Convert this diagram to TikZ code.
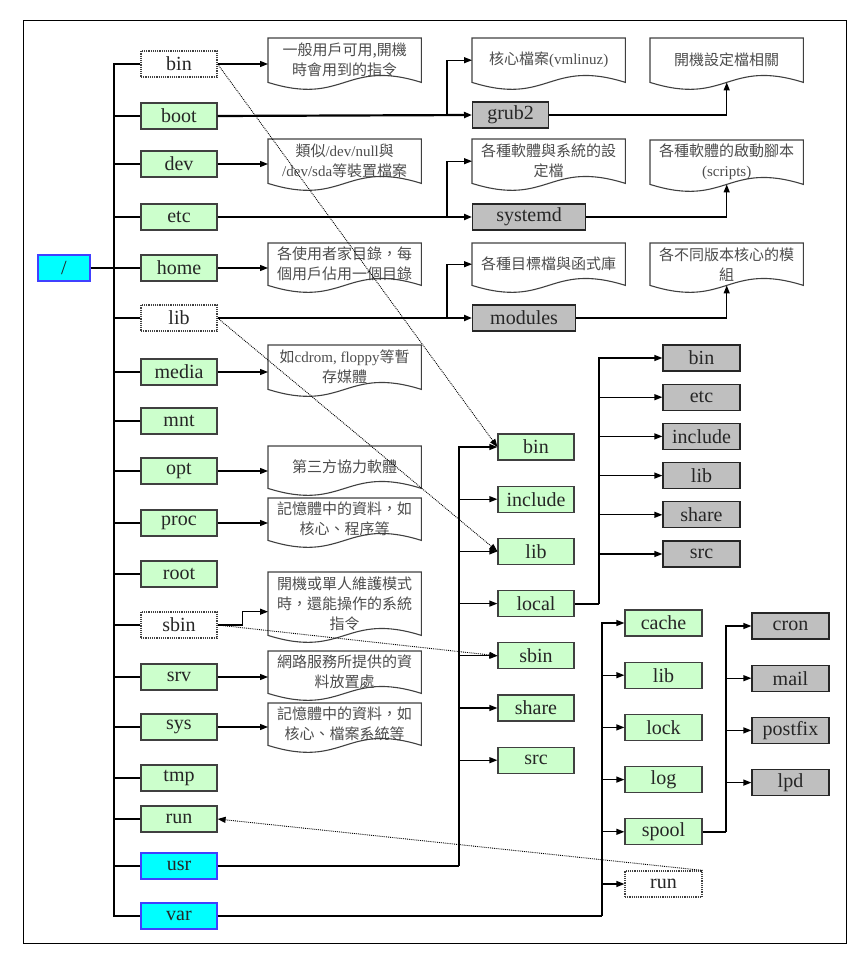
\documentclass[tikz,border=0pt]{standalone}
\usepackage{fontspec}
\setmainfont{Liberation Serif}
\newfontfamily\cjk{Noto Sans CJK TC}
\usepackage{tikz}
\usetikzlibrary{
  arrows.meta,
  positioning,
  calc
}
\definecolor{dirgreen}{HTML}{CCFFCC}
\definecolor{subgrey}{HTML}{BFBFBF}
\definecolor{topcyan}{HTML}{00FFFF}
\tikzset{
  dirbox/.style={draw=black!75, fill=dirgreen, line width=1.2pt,
    minimum width=76pt, minimum height=26pt, inner sep=0pt,
    font=\fontsize{20}{22}\selectfont, text=black!85},
  linkbox/.style={dirbox, fill=white, densely dotted},
  subbox/.style={dirbox, fill=subgrey, draw=black!85},
  mainbox/.style={dirbox, fill=topcyan, draw=blue!75},
  notebox/.style={anchor=north west, minimum width=153pt, inner sep=0pt,
    align=center, font=\cjk\fontsize{15}{20}\selectfont, text=black!70},
  noteline/.style={draw=black!75, line width=1.1pt},
  arr/.style={-{Triangle[length=8pt,width=6pt]}, line width=1.2pt},
  tarr/.style={arr, line width=2.2pt},
  darr/.style={arr, line width=0.9pt, densely dotted},
  trunk/.style={line width=1.5pt},
  bold/.style={line width=2.2pt},
}
\newcommand{\wavy}[1]{%
  \draw[noteline] (#1.south west) -- (#1.north west) -- (#1.north east)
    -- (#1.south east) .. controls ([yshift=24pt]#1.south)
    and ([yshift=-24pt]#1.south) .. (#1.south west) -- cycle;}
\newcommand{\lat}[1]{{\rmfamily #1}}

\begin{document}
\begin{tikzpicture}[x=1pt, y=-1pt]
  \useasboundingbox (0,0) rectangle (865,955);
  \draw[line width=1pt] (23,21) rectangle (846,943);

  % root and first level
  \node[mainbox, minimum width=52pt] (top) at (64,268) {/};
  \coordinate (spine) at (114,268);
  \node[linkbox] (bin) at (179,64) {bin};
  \node[dirbox] (boot) at (179,116) {boot};
  \node[dirbox] (dev) at (179,164) {dev};
  \node[dirbox] (etc) at (179,217) {etc};
  \node[dirbox] (home) at (179,268) {home};
  \node[linkbox] (lib) at (179,318) {lib};
  \node[dirbox] (media) at (179,372) {media};
  \node[dirbox] (mnt) at (179,421) {mnt};
  \node[dirbox] (opt) at (179,471) {opt};
  \node[dirbox] (proc) at (179,523) {proc};
  \node[dirbox] (root) at (179,574) {root};
  \node[linkbox] (sbin) at (179,625) {sbin};
  \node[dirbox] (srv) at (179,677) {srv};
  \node[dirbox] (sys) at (179,727) {sys};
  \node[dirbox] (tmp) at (179,778) {tmp};
  \node[dirbox] (run) at (179,819) {run};
  \node[mainbox] (usr) at (179,866) {usr};
  \node[mainbox] (var) at (179,916) {var};

  \draw[bold] (top.east) -- (spine);
  \draw[trunk] (bin.west) -- (bin.west -| spine) -- (var.west -| spine) -- (var.west);
  \draw[trunk] (boot.west) -- (boot.west -| spine);
  \draw[trunk] (dev.west) -- (dev.west -| spine);
  \draw[trunk] (etc.west) -- (etc.west -| spine);
  \draw[trunk] (home.west) -- (home.west -| spine);
  \draw[trunk] (lib.west) -- (lib.west -| spine);
  \draw[trunk] (media.west) -- (media.west -| spine);
  \draw[trunk] (mnt.west) -- (mnt.west -| spine);
  \draw[trunk] (opt.west) -- (opt.west -| spine);
  \draw[trunk] (proc.west) -- (proc.west -| spine);
  \draw[trunk] (root.west) -- (root.west -| spine);
  \draw[trunk] (sbin.west) -- (sbin.west -| spine);
  \draw[trunk] (srv.west) -- (srv.west -| spine);
  \draw[trunk] (sys.west) -- (sys.west -| spine);
  \draw[trunk] (tmp.west) -- (tmp.west -| spine);
  \draw[trunk] (run.west) -- (run.west -| spine);
  \draw[trunk] (usr.west) -- (usr.west -| spine);

  % notes of the first level
  \node[notebox, minimum height=44pt] (nbin) at (268,38) {一般用戶可用,開機\\時會用到的指令};
  \node[notebox, minimum height=44pt] (ndev) at (268,139) {類似\lat{/dev/null}與\\\lat{/dev/sda}等裝置檔案};
  \node[notebox, minimum height=42pt] (nhome) at (268,243) {各使用者家目錄，每\\個用戶佔用一個目錄};
  \node[notebox, minimum height=44pt] (nmedia) at (268,345) {如\lat{cdrom, floppy}等暫\\存媒體};
  \node[notebox, minimum height=42pt] (nopt) at (268,446) {第三方協力軟體};
  \node[notebox, minimum height=42pt] (nproc) at (268,498) {記憶體中的資料，如\\核心、程序等};
  \node[notebox, minimum height=63pt] (nsbin) at (268,572) {開機或單人維護模式\\時，還能操作的系統\\指令};
  \node[notebox, minimum height=42pt] (nsrv) at (268,651) {網路服務所提供的資\\料放置處};
  \node[notebox, minimum height=42pt] (nsys) at (268,703) {記憶體中的資料，如\\核心、檔案系統等};
  \wavy{nbin} \wavy{ndev} \wavy{nhome} \wavy{nmedia} \wavy{nopt}
  \wavy{nproc} \wavy{nsbin} \wavy{nsrv} \wavy{nsys}

  \draw[arr] (bin.east) -- (bin.east -| nbin.west);
  \draw[arr] (dev.east) -- (dev.east -| ndev.west);
  \draw[arr] (home.east) -- (home.east -| nhome.west);
  \draw[arr] (media.east) -- (media.east -| nmedia.west);
  \draw[arr] (opt.east) -- (opt.east -| nopt.west);
  \draw[arr] (proc.east) -- (proc.east -| nproc.west);
  \draw[arr] (sbin.east) -- ([xshift=25pt]sbin.east) |- ([yshift=-8pt]nsbin.west);
  \draw[arr] (srv.east) -- (srv.east -| nsrv.west);
  \draw[arr] (sys.east) -- (sys.east -| nsys.west);

  % boot, etc and lib
  \coordinate (fork) at (447,0);
  \node[subbox, anchor=west] (grub) at (472,115) {grub2};
  \node[subbox, anchor=west, minimum width=113pt] (systemd) at (472,217) {systemd};
  \node[subbox, anchor=west, minimum width=103pt] (modules) at (472,318) {modules};
  \node[notebox, minimum height=44pt] (nvmlinuz) at (472,38) {核心檔案\lat{(vmlinuz)}};
  \node[notebox, minimum height=44pt] (netc) at (472,139) {各種軟體與系統的設\\定檔};
  \node[notebox, minimum height=42pt] (nlib) at (472,243) {各種目標檔與函式庫};
  \node[notebox, minimum height=44pt] (nboot) at (650,38) {開機設定檔相關};
  \node[notebox, minimum height=44pt] (nscripts) at (650,140) {各種軟體的啟動腳本\\\lat{(scripts)}};
  \node[notebox, minimum height=42pt] (nmodules) at (650,243) {各不同版本核心的模\\組};
  \wavy{nvmlinuz} \wavy{netc} \wavy{nlib}
  \wavy{nboot} \wavy{nscripts} \wavy{nmodules}

  \draw[tarr] (boot.east) -- (grub.west);
  \draw[arr] (fork |- grub.west) |- (nvmlinuz.west);
  \draw[arr] (grub.east) -| (nboot.south);
  \draw[tarr] (etc.east) -- (systemd.west);
  \draw[arr] (fork |- systemd.west) |- (netc.west);
  \draw[arr] (systemd.east) -| (nscripts.south);
  \draw[tarr] (lib.east) -- (modules.west);
  \draw[arr] (fork |- modules.west) |- (nlib.west);
  \draw[arr] (modules.east) -| (nmodules.south);

  % usr
  \coordinate (ubus) at (459,0);
  \node[dirbox] (ubin) at (536,447) {bin};
  \node[dirbox, below=25pt of ubin] (uinclude) {include};
  \node[dirbox, below=25pt of uinclude] (ulib) {lib};
  \node[dirbox, below=25pt of ulib] (ulocal) {local};
  \node[dirbox, below=25pt of ulocal] (usbin) {sbin};
  \node[dirbox, below=25pt of usbin] (ushare) {share};
  \node[dirbox, below=25pt of ushare] (usrc) {src};
  \draw[bold] (usr.east) -- (usr.east -| ubus);
  \draw[arr] (usr.east -| ubus) |- (ubin.west);
  \draw[arr] (ubus |- uinclude.west) -- (uinclude.west);
  \draw[arr] (ubus |- ulib.west) -- (ulib.west);
  \draw[arr] (ubus |- ulocal.west) -- (ulocal.west);
  \draw[arr] (ubus |- usbin.west) -- (usbin.west);
  \draw[arr] (ubus |- ushare.west) -- (ushare.west);
  \draw[arr] (ubus |- usrc.west) -- (usrc.west);

  % usr/local
  \coordinate (lbus) at (599,0);
  \node[subbox, minimum width=77pt] (lbin) at (701.5,358) {bin};
  \node[subbox, minimum width=77pt, below=12pt of lbin] (letc) {etc};
  \node[subbox, minimum width=77pt, below=12pt of letc] (linclude) {include};
  \node[subbox, minimum width=77pt, below=12pt of linclude] (llib) {lib};
  \node[subbox, minimum width=77pt, below=12pt of llib] (lshare) {share};
  \node[subbox, minimum width=77pt, below=12pt of lshare] (lsrc) {src};
  \draw[bold] (ulocal.east) -- (ulocal.east -| lbus);
  \draw[arr] (ulocal.east -| lbus) |- (lbin.west);
  \draw[arr] (lbus |- letc.west) -- (letc.west);
  \draw[arr] (lbus |- linclude.west) -- (linclude.west);
  \draw[arr] (lbus |- llib.west) -- (llib.west);
  \draw[arr] (lbus |- lshare.west) -- (lshare.west);
  \draw[arr] (lbus |- lsrc.west) -- (lsrc.west);

  % var
  \coordinate (vbus) at (602,0);
  \node[dirbox, minimum width=77pt] (vcache) at (663.5,623) {cache};
  \node[dirbox, minimum width=77pt, below=25pt of vcache] (vlib) {lib};
  \node[dirbox, minimum width=77pt, below=25pt of vlib] (vlock) {lock};
  \node[dirbox, minimum width=77pt, below=25pt of vlock] (vlog) {log};
  \node[dirbox, minimum width=77pt, below=25pt of vlog] (vspool) {spool};
  \node[linkbox, minimum width=77pt, below=25pt of vspool] (vrun) {run};
  \draw[bold] (var.east) -- (var.east -| vbus);
  \draw[arr] (var.east -| vbus) |- (vcache.west);
  \draw[arr] (vbus |- vlib.west) -- (vlib.west);
  \draw[arr] (vbus |- vlock.west) -- (vlock.west);
  \draw[arr] (vbus |- vlog.west) -- (vlog.west);
  \draw[arr] (vbus |- vspool.west) -- (vspool.west);
  \draw[arr] (vbus |- vrun.west) -- (vrun.west);

  % var/spool
  \coordinate (sbus) at (726,0);
  \node[subbox, minimum width=77pt] (scron) at (790.5,626) {cron};
  \node[subbox, minimum width=77pt, below=25pt of scron] (smail) {mail};
  \node[subbox, minimum width=77pt, below=25pt of smail] (spostfix) {postfix};
  \node[subbox, minimum width=77pt, below=25pt of spostfix] (slpd) {lpd};
  \draw[bold] (vspool.east) -- (vspool.east -| sbus);
  \draw[arr] (vspool.east -| sbus) |- (scron.west);
  \draw[arr] (sbus |- smail.west) -- (smail.west);
  \draw[arr] (sbus |- spostfix.west) -- (spostfix.west);
  \draw[arr] (sbus |- slpd.west) -- (slpd.west);

  % links
  \draw[darr] (bin.east) -- (ubin.west);
  \draw[darr] (lib.east) -- (ulib.west);
  \draw[darr] (sbin.east) -- (usbin.west);
  \draw[darr] (vrun.north east) -- (run.east);
\end{tikzpicture}
\end{document}
